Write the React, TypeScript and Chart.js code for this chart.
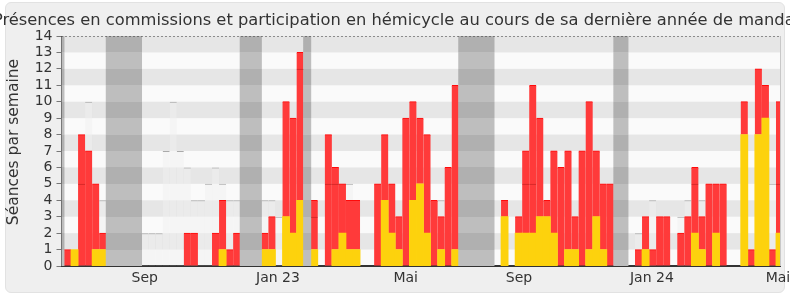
import React, { useEffect, useRef } from 'react';
import { Chart, registerables } from 'chart.js';

Chart.register(...registerables);

const TITLE = 'Présences en commissions et participation en hémicycle au cours de sa dernière année de mandat';
const Y_TITLE = 'Séances par semaine';

// week positions (one bar per week)
const weeks = [
  0, 1, 2, 3, 4, 5, 6, 7, 8, 9, 10, 11, 12, 13, 14, 15, 16, 17, 18, 19,
  20, 21, 22, 23, 24, 25, 26, 27, 28, 29, 30, 31, 32, 33, 34, 35, 36, 37, 38, 39,
  40, 41, 42, 43, 44, 45, 46, 47, 48, 49, 50, 51, 52, 53, 54, 55, 56, 57, 58, 59,
  60, 61, 62, 63, 64, 65, 66, 67, 68, 69, 70, 71, 72, 73, 74, 75, 76, 77, 78, 79,
  80, 81, 82, 83, 84, 85, 86, 87, 88, 89, 90, 91, 92, 93, 94, 95, 96, 97, 98, 99,
  100, 101, 102,
];

// participation en hémicycle (yellow)
const hemicycle = [
  0, 0, 1, 0, 0, 1, 1, 0, 0, 0,
  0, 0, 0, 0, 0, 0, 0, 0, 0, 0,
  0, 0, 0, 1, 0, 0, 0, 0, 0, 1,
  1, 0, 3, 2, 4, 0, 1, 0, 0, 1,
  2, 1, 1, 0, 0, 0, 4, 2, 1, 0,
  4, 5, 2, 0, 1, 0, 1, 0, 0, 0,
  0, 0, 0, 3, 0, 2, 2, 2, 3, 3,
  2, 0, 1, 1, 0, 1, 3, 1, 0, 0,
  0, 0, 0, 1, 0, 0, 0, 0, 0, 0,
  2, 1, 0, 2, 0, 0, 0, 8, 0, 8,
  9, 0, 2,
];

// présences en commission (red, stacked above yellow)
const commission = [
  0, 1, 0, 8, 7, 4, 1, 0, 0, 0,
  0, 0, 0, 0, 0, 0, 0, 0, 2, 2,
  0, 0, 2, 3, 1, 2, 0, 0, 0, 1,
  2, 0, 7, 7, 9, 0, 3, 0, 8, 5,
  3, 3, 3, 0, 0, 5, 4, 3, 2, 9,
  6, 4, 6, 4, 2, 6, 10, 0, 0, 0,
  0, 0, 0, 1, 0, 1, 5, 9, 6, 1,
  5, 6, 6, 2, 7, 9, 4, 4, 5, 0,
  0, 0, 1, 2, 1, 3, 3, 0, 2, 3,
  4, 2, 5, 3, 5, 0, 0, 2, 1, 4,
  2, 1, 8,
];

// médiane des députés (light grey)
const mediane = [
  0, 0, 0, 5, 10, 0, 4, 0, 0, 0,
  0, 0, 2, 2, 2, 7, 10, 7, 6, 4,
  4, 5, 6, 5, 4, 4, 0, 0, 0, 4,
  4, 3, 0, 0, 12, 0, 3, 0, 5, 5,
  5, 5, 0, 0, 0, 0, 0, 0, 0, 0,
  0, 0, 0, 0, 4, 0, 0, 0, 0, 0,
  0, 0, 0, 0, 0, 0, 5, 5, 0, 0,
  0, 0, 0, 0, 0, 0, 0, 0, 0, 0,
  0, 0, 2, 0, 4, 0, 0, 0, 3, 4,
  5, 4, 0, 0, 0, 0, 0, 0, 0, 0,
  0, 5, 5,
];

// vacances parlementaires (week indices)
const vacationWeeks = [0, 7, 8, 9, 10, 11, 26, 27, 28, 35, 57, 58, 59, 60, 61, 79, 80];

// month tick labels and the week position where each is shown
const monthTickLabels = ['Sep', 'Jan 23', 'Mai', 'Sep', 'Jan 24', 'Mai'];
const monthTickWeeks = [11.95, 30.85, 48.97, 65.04, 83.9, 101.78];

const Y_MAX = 14;
const X_MIN = 0.15;
const X_MAX = 102.07;

const FONT = '"DejaVu Sans", Verdana, sans-serif';

const nz = (arr: number[]) => arr.map((v) => (v ? v : null));

// vacation fill: opaque grey that follows the background stripes
const vacationFill = (c: any) => {
  const chart = c.chart;
  const { ctx, chartArea, scales } = chart;
  if (!chartArea || !scales.y) return '#b8b8b8';
  const { top, bottom } = chartArea;
  const h = bottom - top;
  const g = ctx.createLinearGradient(0, bottom, 0, top);
  for (let v = 0; v < Y_MAX; v++) {
    const col = v % 2 === 1 ? '#b0b0b0' : '#bebebe';
    const p0 = (bottom - scales.y.getPixelForValue(v)) / h;
    const p1 = (bottom - scales.y.getPixelForValue(v + 1)) / h;
    g.addColorStop(Math.min(1, Math.max(0, p0)), col);
    g.addColorStop(Math.min(1, Math.max(0, p1)), col);
  }
  return g;
};

const decorPlugin = {
  id: 'decor',
  beforeDraw(chart: any) {
    const { ctx, chartArea, scales } = chart;
    const { left, right, top, bottom } = chartArea;
    const y = scales.y;
    ctx.save();
    ctx.fillStyle = '#fafafa';
    ctx.fillRect(left, top, right - left, bottom - top);
    ctx.fillStyle = '#e6e6e6';
    for (let v = 1; v < Y_MAX; v += 2) {
      const y1 = y.getPixelForValue(v + 1);
      const y0 = y.getPixelForValue(v);
      ctx.fillRect(left, y1, right - left, y0 - y1);
    }
    ctx.restore();
  },
  afterDraw(chart: any) {
    const { ctx, chartArea } = chart;
    const { left, right, top, bottom } = chartArea;
    ctx.save();
    ctx.strokeStyle = '#333';
    ctx.lineWidth = 1;
    ctx.setLineDash([1, 3]);
    ctx.beginPath();
    ctx.moveTo(left, Math.round(top) + 0.5);
    ctx.lineTo(right, Math.round(top) + 0.5);
    ctx.stroke();
    ctx.setLineDash([]);
    ctx.strokeStyle = '#c8c8c8';
    ctx.beginPath();
    ctx.moveTo(Math.round(right) + 0.5, top);
    ctx.lineTo(Math.round(right) + 0.5, bottom);
    ctx.stroke();
    ctx.fillStyle = '#333';
    ctx.font = '16.3px ' + FONT;
    ctx.textAlign = 'center';
    ctx.textBaseline = 'middle';
    ctx.fillText(TITLE, chart.width / 2 + 2, 20.5);
    ctx.translate(14, 142);
    ctx.rotate(-Math.PI / 2);
    ctx.font = '15.5px ' + FONT;
    ctx.fillText(Y_TITLE, 0, 0);
    ctx.restore();
  },
};

export default function App() {
  const canvasRef = useRef<HTMLCanvasElement | null>(null);

  useEffect(() => {
    document.body.style.margin = '0';
    const canvas = canvasRef.current;
    if (!canvas) return;

    const chart = new Chart(canvas, {
      type: 'bar',
      data: {
        labels: weeks,
        datasets: [
          {
            label: 'Médiane (trait)',
            data: nz(mediane),
            backgroundColor: 'rgba(0,0,0,0)',
            borderColor: (c: any) => {
              const i = c.dataIndex;
              const m = mediane[i];
              return m > hemicycle[i] && m < hemicycle[i] + commission[i]
                ? 'rgba(120,0,0,0.35)'
                : 'rgba(0,0,0,0)';
            },
            borderWidth: { top: 1, left: 0, right: 0, bottom: 0 },
            borderSkipped: 'start',
            inflateAmount: 0,
            stack: 'medline',
            order: -1,
            grouped: false,
            clip: 0,
          },
          {
            label: 'Vacances parlementaires',
            data: weeks.map((w) => (vacationWeeks.includes(w) ? Y_MAX : null)),
            backgroundColor: vacationFill,
            borderWidth: 0,
            inflateAmount: 0.5,
            stack: 'vac',
            order: 0,
            grouped: false,
            clip: 0,
          },
          {
            label: 'Participation en hémicycle',
            data: nz(hemicycle),
            backgroundColor: 'rgb(253,210,13)',
            borderWidth: 0,
            inflateAmount: 0.4,
            stack: 'main',
            order: 1,
            grouped: false,
            clip: 0,
          },
          {
            label: 'Présences en commission',
            data: nz(commission),
            backgroundColor: 'rgb(255,58,58)',
            borderColor: 'rgb(255,10,10)',
            borderWidth: { top: 1, left: 0, right: 0, bottom: 0 },
            borderSkipped: 'start',
            inflateAmount: 0.4,
            stack: 'main',
            order: 2,
            grouped: false,
            clip: 0,
          },
          {
            label: 'Médiane',
            data: nz(mediane),
            backgroundColor: 'rgba(240,240,240,0.5)',
            borderColor: 'rgba(170,170,170,1)',
            borderWidth: { top: 1, left: 0, right: 0, bottom: 0 },
            borderSkipped: 'start',
            inflateAmount: 0,
            stack: 'med',
            order: 3,
            grouped: false,
            clip: 0,
          },
        ] as any,
      },
      options: {
        responsive: false,
        devicePixelRatio: 1,
        animation: false,
        events: [],
        layout: { padding: { top: 36, right: 10, bottom: 0, left: 0 } },
        datasets: {
          bar: { barPercentage: 1, categoryPercentage: 1 },
        },
        plugins: {
          legend: { display: false },
          title: { display: false },
          tooltip: { enabled: false },
        },
        scales: {
          x: {
            type: 'linear',
            min: X_MIN,
            max: X_MAX,
            offset: false,
            z: 1,
            grid: { display: true, drawOnChartArea: false, drawTicks: false, color: 'rgba(0,0,0,0)' },
            border: { display: true, color: '#333', width: 2 },
            ticks: {
              autoSkip: false,
              maxRotation: 0,
              minRotation: 0,
              color: '#333',
              padding: 3.5,
              font: { family: FONT, size: 14 },
              callback: (_v: any, i: number) => monthTickLabels[i],
            },
            afterBuildTicks: (s: any) => {
              s.ticks = monthTickWeeks.map((v) => ({ value: v }));
            },
            afterFit: (s: any) => {
              s.height = 34;
              s.paddingLeft = 0;
              s.paddingRight = 0;
            },
          },
          y: {
            type: 'linear',
            min: 0,
            max: Y_MAX,
            stacked: true,
            z: 1,
            grid: { display: true, drawOnChartArea: false, drawTicks: true, tickLength: 5, color: '#777' },
            border: { display: true, color: '#333', width: 1 },
            ticks: {
              stepSize: 1,
              autoSkip: false,
              color: '#333',
              padding: 4,
              font: { family: FONT, size: 14 },
            },
            afterFit: (s: any) => {
              s.width = 61.5;
              s.paddingTop = 0;
              s.paddingBottom = 0;
            },
          },
        },
      } as any,
      plugins: [decorPlugin],
    });

    return () => chart.destroy();
  }, []);

  return (
    <div style={{ position: 'relative', width: 790, height: 300, background: '#fff' }}>
      <div
        style={{
          position: 'absolute',
          left: 5,
          top: 2,
          width: 778,
          height: 289,
          background: '#efefef',
          border: '1px solid #e2e2e2',
          borderRadius: 6,
        }}
      />
      <canvas
        ref={canvasRef}
        width={790}
        height={300}
        style={{ position: 'absolute', left: 0, top: 0, width: 790, height: 300 }}
      />
    </div>
  );
}
